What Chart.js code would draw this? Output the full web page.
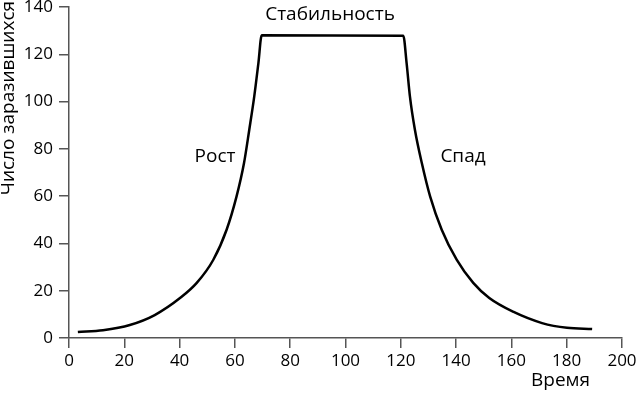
<!DOCTYPE html>
<html>
<head>
<meta charset="utf-8">
<script src="https://cdn.jsdelivr.net/npm/chart.js@4/dist/chart.umd.min.js"></script>
<style>
  html, body { margin: 0; padding: 0; background: #fff; }
  #wrap { width: 642px; height: 394px; }
</style>
</head>
<body>
<div id="wrap"><canvas id="epiChart" width="642" height="394"></canvas></div>
<script>
// time (x) and number of infected (y)
const timeValues = [3.2, 12.3, 22.0, 31.0, 40.5, 46.2, 52.2, 57.0, 60.6, 63.3, 65.2, 67.0, 68.5, 69.7,
                    120.9, 122.1, 123.3, 125.1, 127.6, 130.6, 134.8, 140.2, 146.2, 152.0, 160.8, 171.1, 180.1, 189.2];
const infectedValues = [2.5, 3.3, 5.5, 9.7, 17.2, 23.3, 33.1, 45.8, 59.9, 74.0, 88.1, 102.2, 116.3, 128.0,
                        127.8, 116.3, 102.2, 88.1, 74.0, 59.9, 45.8, 33.1, 23.3, 16.9, 11.0, 6.3, 4.3, 3.8];

const xTicks = [0, 20, 40, 60, 80, 100, 120, 140, 160, 180, 200];
const yTicks = [0, 20, 40, 60, 80, 100, 120, 140];

const xTitle = 'Время';
const yTitle = 'Число заразившихся';

// phase labels: text, x, y in data units
const phaseNames = ['Рост', 'Стабильность', 'Спад'];
const phaseX = [52.8, 94.4, 142.5];
const phaseY = [76.7, 136.8, 76.7];

const FONT = '"Open Sans", "Noto Sans", sans-serif';
const AXIS = '#555';

const points = timeValues.map((t, i) => ({x: t, y: infectedValues[i]}));

const labelsPlugin = {
    id: 'phaseLabels',
    afterDraw(chart) {
        const {ctx, scales: {x, y}} = chart;
        ctx.save();
        ctx.fillStyle = '#000';
        ctx.font = '19px ' + FONT;
        ctx.textAlign = 'center';
        ctx.textBaseline = 'middle';
        phaseNames.forEach((name, i) => {
            ctx.fillText(name, x.getPixelForValue(phaseX[i]), y.getPixelForValue(phaseY[i]));
        });
        // x axis title, right part under the axis
        ctx.textAlign = 'right';
        ctx.fillText(xTitle, 590, 381);
        // y axis title, rotated, hanging from the top
        ctx.translate(9, 0);
        ctx.rotate(-Math.PI / 2);
        ctx.fillText(yTitle, -1, 0);
        ctx.restore();
    }
};

new Chart(document.getElementById('epiChart').getContext('2d'), {
    type: 'line',
    data: {
        datasets: [{
            data: points,
            borderColor: '#000',
            borderWidth: 2.5,
            pointRadius: 0,
            fill: false,
            cubicInterpolationMode: 'monotone'
        }]
    },
    options: {
        responsive: false,
        animation: false,
        layout: { padding: { top: 0, right: 20 } },
        plugins: { legend: { display: false }, tooltip: { enabled: false } },
        scales: {
            x: {
                type: 'linear',
                min: 0, max: 200,
                afterFit(scale) { scale.height = 56; },
                afterBuildTicks(scale) { scale.ticks = xTicks.map(v => ({value: v})); },
                border: { color: AXIS, width: 1.5 },
                grid: { drawOnChartArea: false, drawTicks: true, tickLength: 10, color: AXIS, lineWidth: 1.5 },
                ticks: { color: '#000', padding: 3, maxRotation: 0, font: { family: FONT, size: 17 } }
            },
            y: {
                min: 0, max: 140,
                afterFit(scale) { scale.width = 69; scale.paddingTop = 7; },
                afterBuildTicks(scale) { scale.ticks = yTicks.map(v => ({value: v})); },
                border: { color: AXIS, width: 1.5 },
                grid: { drawOnChartArea: false, drawTicks: true, tickLength: 10, color: AXIS, lineWidth: 1.5 },
                ticks: { color: '#000', padding: 6, font: { family: FONT, size: 17 } }
            }
        }
    },
    plugins: [labelsPlugin]
});
</script>
</body>
</html>
